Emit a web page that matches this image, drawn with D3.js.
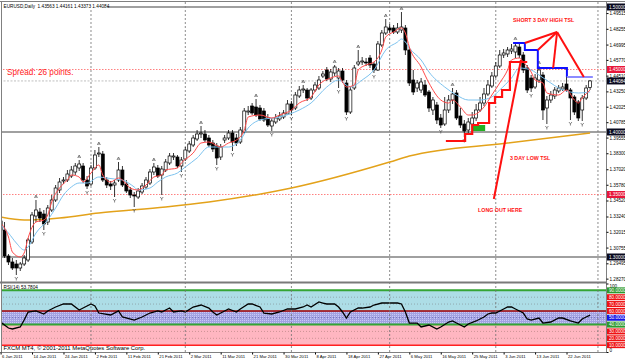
<!DOCTYPE html>
<html>
<head>
<meta charset="utf-8">
<title>EURUSD Daily</title>
<script src="https://cdn.jsdelivr.net/npm/d3@7"></script>
<style>
  body { margin: 0; background: #fff; }
  svg { display: block; font-family: "Liberation Sans", Arial, sans-serif; }
</style>
</head>
<body>
<svg id="chart" width="625" height="361"></svg>
<script>
// EURUSD daily bars (bar 0 = 6 Jan 2011)
var openP = [1.3288,1.3216,1.3008,1.2960,1.2944,1.2912,1.2944,1.2976,1.3120,1.3328,
  1.3360,1.3344,1.3280,1.3376,1.3456,1.3536,1.3608,1.3616,1.3648,1.3680,
  1.3712,1.3728,1.3616,1.3584,1.3712,1.3824,1.3824,1.3616,1.3584,1.3576,
  1.3616,1.3696,1.3584,1.3536,1.3496,1.3480,1.3520,1.3560,1.3592,1.3680,
  1.3712,1.3656,1.3696,1.3752,1.3800,1.3800,1.3728,1.3784,1.3848,1.3896,
  1.3944,1.3984,1.3984,1.3952,1.3912,1.3888,1.3800,1.3936,1.3952,1.3992,
  1.3952,1.3920,1.4000,1.4160,1.4208,1.4200,1.4192,1.4168,1.4112,1.4048,
  1.4080,1.4104,1.4120,1.4144,1.4224,1.4192,1.4288,1.4336,1.4336,1.4272,
  1.4336,1.4352,1.4448,1.4496,1.4424,1.4472,1.4432,1.4488,1.4392,1.4160,
  1.4352,1.4544,1.4560,1.4560,1.4592,1.4544,1.4496,1.4696,1.4792,1.4832,
  1.4832,1.4800,1.4816,1.4832,1.4656,1.4416,1.4352,1.4336,1.4376,1.4320,
  1.4176,1.4216,1.4112,1.4064,1.4176,1.4256,1.4312,1.4128,1.4064,1.4016,
  1.4064,1.4112,1.4176,1.4232,1.4304,1.4368,1.4448,1.4528,1.4616,1.4624,
  1.4648,1.4640,1.4680,1.4616,1.4512,1.4432,1.4360,1.4416,1.4456,1.4192,
  1.4256,1.4288,1.4328,1.4344,1.4384,1.4336,1.4280,1.4240,1.4176,1.4272,
  1.43563];
var highP = [1.3320,1.3280,1.3024,1.2992,1.2976,1.2960,1.3016,1.3152,1.3360,1.3456,
  1.3392,1.3376,1.3416,1.3496,1.3576,1.3632,1.3640,1.3696,1.3728,1.3752,
  1.3776,1.3752,1.3648,1.3736,1.3856,1.3880,1.3848,1.3640,1.3608,1.3616,
  1.3760,1.3728,1.3616,1.3560,1.3520,1.3552,1.3592,1.3640,1.3704,1.3752,
  1.3736,1.3728,1.3784,1.3832,1.3832,1.3816,1.3800,1.3880,1.3928,1.3976,
  1.4016,1.4048,1.4016,1.3976,1.3936,1.3912,1.3904,1.3976,1.4016,1.4016,
  1.3984,1.4040,1.4192,1.4208,1.4232,1.4264,1.4216,1.4192,1.4144,1.4112,
  1.4144,1.4160,1.4176,1.4256,1.4248,1.4320,1.4368,1.4376,1.4352,1.4352,
  1.4400,1.4448,1.4488,1.4520,1.4504,1.4536,1.4512,1.4512,1.4416,1.4360,
  1.4536,1.4656,1.4600,1.4592,1.4616,1.4560,1.4728,1.4816,1.4904,1.4864,
  1.4856,1.4872,1.4960,1.4856,1.4680,1.4496,1.4416,1.4432,1.4416,1.4336,
  1.4280,1.4240,1.4144,1.4280,1.4296,1.4352,1.4336,1.4192,1.4096,1.4112,
  1.4160,1.4224,1.4280,1.4352,1.4416,1.4480,1.4560,1.4656,1.4664,1.4680,
  1.4704,1.4720,1.4704,1.4640,1.4536,1.4456,1.4464,1.4528,1.4480,1.4288,
  1.4328,1.4360,1.4376,1.4392,1.4480,1.4352,1.4296,1.4256,1.4296,1.4376,
  1.44161];
var lowP = [1.3200,1.2992,1.2936,1.2896,1.2856,1.2888,1.2928,1.2960,1.3104,1.3280,
  1.3280,1.3216,1.3256,1.3360,1.3440,1.3512,1.3584,1.3600,1.3632,1.3656,
  1.3688,1.3592,1.3544,1.3568,1.3696,1.3800,1.3600,1.3552,1.3536,1.3480,
  1.3600,1.3560,1.3512,1.3472,1.3400,1.3464,1.3504,1.3544,1.3576,1.3656,
  1.3632,1.3496,1.3680,1.3736,1.3776,1.3712,1.3680,1.3768,1.3832,1.3880,
  1.3928,1.3952,1.3920,1.3880,1.3840,1.3736,1.3776,1.3912,1.3936,1.3848,
  1.3888,1.3904,1.3984,1.4136,1.4136,1.4120,1.4088,1.4080,1.4040,1.4008,
  1.4064,1.4088,1.4104,1.4144,1.4136,1.4176,1.4272,1.4312,1.4248,1.4256,
  1.4320,1.4336,1.4432,1.4408,1.4400,1.4448,1.4352,1.4392,1.4136,1.4144,
  1.4336,1.4528,1.4536,1.4528,1.4512,1.4472,1.4488,1.4680,1.4776,1.4792,
  1.4784,1.4784,1.4792,1.4616,1.4368,1.4296,1.4320,1.4312,1.4280,1.4160,
  1.4136,1.4064,1.4032,1.4048,1.4152,1.4224,1.4096,1.4032,1.3960,1.3992,
  1.4032,1.4088,1.4160,1.4208,1.4288,1.4352,1.4432,1.4512,1.4592,1.4600,
  1.4624,1.4592,1.4592,1.4472,1.4312,1.4320,1.4344,1.4392,1.4096,1.4064,
  1.4232,1.4264,1.4312,1.4328,1.4320,1.4096,1.4136,1.4088,1.4088,1.4256,
  1.43373];
var closeP = [1.3216,1.3008,1.2960,1.2912,1.2912,1.2944,1.2992,1.3136,1.3336,1.3376,
  1.3312,1.3264,1.3392,1.3456,1.3552,1.3600,1.3616,1.3664,1.3696,1.3728,
  1.3744,1.3616,1.3568,1.3712,1.3816,1.3832,1.3616,1.3576,1.3568,1.3592,
  1.3696,1.3576,1.3528,1.3496,1.3488,1.3528,1.3568,1.3616,1.3680,1.3720,
  1.3648,1.3704,1.3760,1.3808,1.3808,1.3728,1.3776,1.3856,1.3904,1.3952,
  1.3984,1.3992,1.3936,1.3896,1.3864,1.3792,1.3880,1.3952,1.3992,1.3920,
  1.3912,1.4016,1.4168,1.4168,1.4152,1.4136,1.4104,1.4096,1.4056,1.4088,
  1.4112,1.4128,1.4152,1.4224,1.4176,1.4296,1.4336,1.4344,1.4272,1.4336,
  1.4376,1.4416,1.4464,1.4424,1.4480,1.4520,1.4488,1.4416,1.4160,1.4336,
  1.4512,1.4560,1.4568,1.4552,1.4536,1.4496,1.4704,1.4792,1.4840,1.4816,
  1.4800,1.4832,1.4840,1.4656,1.4392,1.4320,1.4392,1.4400,1.4296,1.4192,
  1.4256,1.4096,1.4056,1.4176,1.4256,1.4304,1.4112,1.4056,1.4008,1.4080,
  1.4112,1.4176,1.4232,1.4304,1.4376,1.4448,1.4528,1.4616,1.4632,1.4656,
  1.4664,1.4688,1.4616,1.4496,1.4336,1.4352,1.4432,1.4496,1.4176,1.4256,
  1.4296,1.4336,1.4352,1.4360,1.4336,1.4272,1.4160,1.4112,1.4272,1.4352,
  1.44084];

// moving averages: [bar, price]
var maFast = [[0,1.3272],[2,1.3160],[3,1.3040],[5,1.3000],[6,1.3032],[7,1.3152],[9,1.3280],[11,1.3296],
  [12,1.3336],[13,1.3440],[15,1.3552],[17,1.3616],[18,1.3656],[20,1.3640],[21,1.3600],[23,1.3672],
  [25,1.3736],[26,1.3656],[28,1.3600],[30,1.3632],[31,1.3616],[33,1.3552],[35,1.3536],[37,1.3576],
  [39,1.3640],[41,1.3656],[42,1.3696],[45,1.3712],[46,1.3752],[49,1.3832],[51,1.3912],[53,1.3920],
  [56,1.3880],[58,1.3912],[60,1.3936],[62,1.4016],[63,1.4120],[66,1.4136],[69,1.4112],[71,1.4136],
  [74,1.4176],[76,1.4232],[79,1.4280],[81,1.4376],[84,1.4432],[86,1.4448],[87,1.4400],[88,1.4360],
  [90,1.4376],[91,1.4496],[93,1.4536],[95,1.4560],[97,1.4656],[98,1.4760],[100,1.4800],[102,1.4832],
  [103,1.4792],[104,1.4680],[107,1.4520],[109,1.4392],[112,1.4256],[114,1.4232],[115,1.4256],[117,1.4200],
  [119,1.4136],[120,1.4136],[123,1.4200],[125,1.4296],[127,1.4392],[129,1.4496],[130,1.4576],[132,1.4592],
  [133,1.4560],[135,1.4480],[136,1.4416],[138,1.4392],[139,1.4312],[142,1.4296],[144,1.4336],[146,1.4256],
  [147,1.4232],[148,1.4272],[150,1.4336]];
var maSlow = [[0,1.3256],[2,1.3192],[4,1.3112],[6,1.3056],[7,1.3080],[9,1.3192],[12,1.3296],[14,1.3392],
  [16,1.3496],[18,1.3560],[20,1.3592],[22,1.3592],[25,1.3640],[27,1.3632],[29,1.3624],[31,1.3616],
  [34,1.3560],[35,1.3536],[38,1.3552],[40,1.3600],[42,1.3640],[45,1.3672],[47,1.3720],[50,1.3792],
  [53,1.3880],[58,1.3880],[61,1.3936],[63,1.4032],[66,1.4096],[71,1.4120],[76,1.4176],[79,1.4232],
  [83,1.4360],[86,1.4416],[89,1.4360],[92,1.4416],[95,1.4496],[98,1.4656],[101,1.4720],[102,1.4744],
  [103,1.4720],[104,1.4672],[107,1.4576],[109,1.4480],[113,1.4360],[116,1.4296],[119,1.4256],[122,1.4256],
  [125,1.4280],[127,1.4336],[130,1.4432],[132,1.4512],[135,1.4496],[137,1.4456],[140,1.4392],[142,1.4352],
  [145,1.4320],[147,1.4312],[150,1.4320]];
var maLong = [[0,1.3320],[6,1.3296],[15,1.3312],[25,1.3352],[42,1.3400],[53,1.3440],[74,1.3552],
  [99,1.3760],[104,1.3808],[129,1.3912],[150,1.3992]];

// RSI(14) read from the lower window: [bar, value]
var rsi = [[0,43.8],[2,35.0],[3,33.6],[5,36.5],[6,46.7],[7,58.4],[9,59.9],[11,55.5],[12,59.9],[14,65.7],
  [16,70.1],[18,70.1],[20,61.3],[21,64.2],[23,70.1],[24,67.2],[25,56.9],[28,54.0],[30,59.9],[31,51.1],
  [34,46.7],[36,51.1],[38,56.9],[40,59.9],[41,58.4],[43,64.2],[44,58.4],[46,59.9],[47,58.4],[49,65.7],
  [51,68.6],[53,64.2],[54,58.4],[55,54.0],[57,59.9],[58,62.8],[60,58.4],[61,62.8],[63,70.1],[64,70.1],
  [66,65.7],[67,56.9],[69,55.5],[71,58.4],[73,62.8],[75,62.8],[77,65.7],[78,68.6],[79,65.7],[81,73.0],
  [82,71.5],[83,70.1],[85,70.1],[86,65.7],[87,58.4],[88,49.6],[89,58.4],[91,64.2],[92,64.2],[94,65.7],
  [95,68.6],[97,71.5],[98,71.5],[101,71.5],[102,70.1],[103,58.4],[104,42.3],[106,42.3],[107,36.5],
  [109,39.4],[111,33.6],[112,36.5],[114,43.8],[115,45.3],[116,42.3],[118,36.5],[119,40.9],[121,45.3],
  [123,51.1],[124,55.5],[125,56.9],[126,56.9],[128,62.8],[129,65.7],[130,65.7],[131,62.8],[133,56.9],
  [134,48.2],[135,46.7],[137,49.6],[138,42.3],[140,43.8],[142,49.6],[143,49.6],[145,45.3],[147,42.3],
  [148,48.2],[149,51.1],[150,53.7804]];

// fractal arrows (bar numbers)
var fractalUp = [9,20,25,30,39,51,65,77,85,91,98,102,115,131,137,144];
var fractalDown = [4,11,22,29,34,41,46,55,59,69,74,86,88,95,112,118,135,139,145,148];

// trailing stops drawn on the chart: [bar, price]
var lowTsl = [[113.3,1.3928],[118.2,1.3984],[120.0,1.4056],[121.5,1.4072],[124.3,1.4232],
  [125.8,1.4280],[127.6,1.4336],[129.6,1.4560],[134.0,1.4560]];
var highTsl = [[130.4,1.4712],[133.4,1.4656],[136.7,1.4512],[144.1,1.4440]];
var highTslEnd = [[144.1,1.4440],[150.7,1.4440]];
var longOut = [[125.5,1.3464],[132.4,1.4576]];
var shortApex = [141.6,1.4800];
var shortTargets = [[133.4,1.4712],[136.7,1.4656],[140.6,1.4512],[148.4,1.4440]];
var entryBox = [[120.0,1.4056],[123.3,1.4008]];

var notes = [
  {text: "SHORT 3 DAY HIGH TSL", bar: 130.4, price: 1.4880},
  {text: "3 DAY LOW TSL", bar: 129.6, price: 1.3776},
  {text: "LONG OUT HERE", bar: 121.5, price: 1.3360}
];

var monthStarts = [23, 47, 74, 99, 126, 152];
var dateLabels = ["6 Jan 2011","14 Jan 2011","24 Jan 2011","2 Feb 2011","11 Feb 2011","21 Feb 2011",
  "2 Mar 2011","11 Mar 2011","21 Mar 2011","30 Mar 2011","8 Apr 2011","18 Apr 2011","27 Apr 2011",
  "6 May 2011","16 May 2011","25 May 2011","3 Jun 2011","13 Jun 2011","22 Jun 2011"];
var dateBars = dateLabels.map(function(d, i) { return i * 8; });
var priceTicks = [1.49515,1.48255,1.46995,1.45770,1.44510,1.43250,1.42025,1.40785,1.39555,
  1.38300,1.37020,1.35780,1.34520,1.33240,1.32015,1.30755,1.29495,1.28270];
var priceMarks = [1.5, 1.45, 1.44084, 1.4, 1.35, 1.3];
var rsiLevels = [90, 80, 70, 60, 50, 40, 30, 20, 10];

var svg = d3.select("#chart");

var x = d3.scaleLinear().domain([0, 150]).range([0.6, 590.1]);
var y = d3.scaleLinear().domain([1.3, 1.5]).range([257, 7]);
var yr = d3.scaleLinear().domain([0, 100]).range([352, 283.5]);
var axisX = 606.5;
var last = openP.length - 1;

var defs = svg.append("defs");
defs.append("clipPath").attr("id", "clipMain").append("rect")
  .attr("x", 2).attr("y", 2).attr("width", axisX - 2).attr("height", 279.5);
defs.append("clipPath").attr("id", "clipRsi").append("rect")
  .attr("x", 2).attr("y", 283.5).attr("width", axisX - 2).attr("height", 69);
var pat = defs.append("pattern").attr("id", "dots")
  .attr("width", 2).attr("height", 2).attr("patternUnits", "userSpaceOnUse");
pat.append("rect").attr("width", 2).attr("height", 2).attr("fill", "#a2a2e2");
pat.append("rect").attr("width", 1).attr("height", 1).attr("fill", "#cacaf4");

// ---------- RSI window backdrop ----------
var rsiG = svg.append("g").attr("clip-path", "url(#clipRsi)");
rsiG.append("rect").attr("x", 0).attr("width", axisX)
  .attr("y", yr(90)).attr("height", yr(60) - yr(90)).attr("fill", "#addde6");
rsiG.append("rect").attr("x", 0).attr("width", axisX)
  .attr("y", yr(60)).attr("height", yr(40) - yr(60)).attr("fill", "url(#dots)");
rsiG.append("rect").attr("x", 0).attr("width", axisX)
  .attr("y", yr(40)).attr("height", yr(10) - yr(40)).attr("fill", "#ffb6c1");

var levelStyle = {
  90: {c: "#34a534", w: 2, d: null}, 80: {c: "#8a9aa0", w: 0.8, d: "1,2"},
  70: {c: "#8a9aa0", w: 0.8, d: "1,2"}, 60: {c: "#a00000", w: 1.5, d: null},
  50: {c: "#5a5aa8", w: 0.8, d: "1,2"}, 40: {c: "#34a534", w: 2, d: null},
  30: {c: "#c08a8a", w: 0.8, d: "1,2"}, 20: {c: "#c08a8a", w: 0.8, d: "1,2"},
  10: {c: "#ff2020", w: 1.5, d: null}
};
rsiG.selectAll(".lvl").data(rsiLevels).enter().append("line")
  .attr("x1", 0).attr("x2", axisX)
  .attr("y1", function(d) { return yr(d); }).attr("y2", function(d) { return yr(d); })
  .attr("stroke", function(d) { return levelStyle[d].c; })
  .attr("stroke-width", function(d) { return levelStyle[d].w; })
  .attr("stroke-dasharray", function(d) { return levelStyle[d].d; });

// month separators through both windows
svg.append("g").selectAll("line").data(monthStarts).enter().append("line")
  .attr("x1", function(d) { return x(d); }).attr("x2", function(d) { return x(d); })
  .attr("y1", 2).attr("y2", 352)
  .attr("stroke", "#707070").attr("stroke-width", 0.8).attr("stroke-dasharray", "2,2");

// RSI line
rsiG.append("path").datum(rsi)
  .attr("fill", "none").attr("stroke", "#000").attr("stroke-width", 1.3)
  .attr("d", d3.line().x(function(d) { return x(d[0]); }).y(function(d) { return yr(d[1]); }));

// ---------- main window ----------
var main = svg.append("g").attr("clip-path", "url(#clipMain)");

// round-number lines
main.selectAll(".hl").data([1.5, 1.4, 1.3]).enter().append("line")
  .attr("x1", 0).attr("x2", axisX)
  .attr("y1", function(d) { return y(d); }).attr("y2", function(d) { return y(d); })
  .attr("stroke", "#808080").attr("stroke-width", 1.5);
main.selectAll(".hr").data([1.45, 1.35]).enter().append("line")
  .attr("x1", 0).attr("x2", axisX)
  .attr("y1", function(d) { return y(d); }).attr("y2", function(d) { return y(d); })
  .attr("stroke", "#ff6060").attr("stroke-width", 0.8).attr("stroke-dasharray", "1.5,1.5");
main.append("line")
  .attr("x1", 0).attr("x2", axisX)
  .attr("y1", y(closeP[last])).attr("y2", y(closeP[last]))
  .attr("stroke", "#b0b0b0").attr("stroke-width", 0.8).attr("stroke-dasharray", "2,1.5");

var maLine = d3.line()
  .x(function(d) { return x(d[0]); })
  .y(function(d) { return y(d[1]); })
  .curve(d3.curveMonotoneX);

main.append("path").datum(maLong)
  .attr("fill", "none").attr("stroke", "#e3a21a").attr("stroke-width", 1.5).attr("d", maLine);

// candles
var bars = d3.range(openP.length);
var candle = main.selectAll(".candle").data(bars).enter().append("g");
candle.append("line")
  .attr("x1", function(i) { return x(i); }).attr("x2", function(i) { return x(i); })
  .attr("y1", function(i) { return y(highP[i]); }).attr("y2", function(i) { return y(lowP[i]); })
  .attr("stroke", "#000").attr("stroke-width", 0.8);
candle.append("rect")
  .attr("x", function(i) { return x(i) - 1.5; })
  .attr("width", 3)
  .attr("y", function(i) { return y(Math.max(openP[i], closeP[i])); })
  .attr("height", function(i) { return Math.max(0.8, Math.abs(y(openP[i]) - y(closeP[i]))); })
  .attr("fill", function(i) { return closeP[i] >= openP[i] ? "#fff" : "#000"; })
  .attr("stroke", "#000").attr("stroke-width", 0.7);

main.append("path").datum(maSlow)
  .attr("fill", "none").attr("stroke", "#7cc2ee").attr("stroke-width", 1).attr("d", maLine);
main.append("path").datum(maFast)
  .attr("fill", "none").attr("stroke", "#ff4a4a").attr("stroke-width", 1).attr("d", maLine);

// fractal arrows
main.selectAll(".fu").data(fractalUp).enter().append("path")
  .attr("transform", function(i) { return "translate(" + x(i) + "," + (y(highP[i]) - 3.5) + ")"; })
  .attr("d", "M-1.5,1.5L0,-1.5L1.5,1.5M-0.9,0.6L0.9,0.6")
  .attr("fill", "none").attr("stroke", "#555").attr("stroke-width", 0.7);
main.selectAll(".fd").data(fractalDown).enter().append("path")
  .attr("transform", function(i) { return "translate(" + x(i) + "," + (y(lowP[i]) + 3.5) + ")"; })
  .attr("d", "M-1.5,-1.5L0,0.4L1.5,-1.5M0,0.4L0,2")
  .attr("fill", "none").attr("stroke", "#555").attr("stroke-width", 0.7);

// hand drawn trade notes
var plain = d3.line().x(function(d) { return x(d[0]); }).y(function(d) { return y(d[1]); });
var step = d3.line().x(function(d) { return x(d[0]); }).y(function(d) { return y(d[1]); })
  .curve(d3.curveStepAfter);

main.append("rect")
  .attr("x", x(entryBox[0][0])).attr("y", y(entryBox[0][1]))
  .attr("width", x(entryBox[1][0]) - x(entryBox[0][0]))
  .attr("height", y(entryBox[1][1]) - y(entryBox[0][1]))
  .attr("fill", "#22b022");
main.append("path").datum(lowTsl)
  .attr("fill", "none").attr("stroke", "#ff1010").attr("stroke-width", 2.2).attr("d", step);
main.append("path").datum(highTsl)
  .attr("fill", "none").attr("stroke", "#1010ff").attr("stroke-width", 2).attr("d", step);
main.append("path").datum(highTslEnd)
  .attr("fill", "none").attr("stroke", "#8c8cff").attr("stroke-width", 2).attr("d", plain);
main.append("path").datum(longOut)
  .attr("fill", "none").attr("stroke", "#ff1010").attr("stroke-width", 2).attr("d", plain);
main.selectAll(".fan").data(shortTargets).enter().append("path")
  .attr("d", function(t) { return plain([shortApex, t]); })
  .attr("fill", "none").attr("stroke", "#ff1010").attr("stroke-width", 2);

main.selectAll(".note").data(notes).enter().append("text")
  .attr("x", function(d) { return x(d.bar); })
  .attr("y", function(d) { return y(d.price); })
  .attr("fill", "#ff1010").attr("font-size", "5.3px").attr("font-weight", "bold")
  .text(function(d) { return d.text; });

main.append("text")
  .attr("x", 7).attr("y", y(1.4460))
  .attr("fill", "#ff2020").attr("font-size", "8.2px")
  .text("Spread: 26 points.");

// title with its white plate
var fmt5 = d3.format(".5f");
var title = "EURUSD,Daily  " + [openP[last], highP[last], lowP[last], closeP[last]].map(fmt5).join(" ");
svg.append("rect").attr("x", 2).attr("y", 2).attr("width", 105).attr("height", 6.5).attr("fill", "#fff");
svg.append("text").attr("x", 3.5).attr("y", 7.5).attr("font-size", "4.7px").attr("fill", "#000")
  .attr("xml:space", "preserve").text(title);

svg.append("text").attr("x", 3.5).attr("y", 288.5).attr("font-size", "4.7px").attr("fill", "#000")
  .text("RSI(14) " + d3.format(".4f")(rsi[rsi.length - 1][1]));
svg.append("text").attr("x", 3.5).attr("y", 350.3).attr("font-size", "5.9px").attr("fill", "#000")
  .text("FXCM MT4, \u00a9 2001-2011 MetaQuotes Software Corp.");

// ---------- frame ----------
svg.append("line").attr("x1", 0).attr("x2", 625).attr("y1", 1.5).attr("y2", 1.5)
  .attr("stroke", "#808080").attr("stroke-width", 1);
svg.append("line").attr("x1", 1.5).attr("x2", 1.5).attr("y1", 1.5).attr("y2", 352.5)
  .attr("stroke", "#808080").attr("stroke-width", 1);
svg.append("line").attr("x1", 0).attr("x2", axisX).attr("y1", 282.5).attr("y2", 282.5)
  .attr("stroke", "#7a7a7a").attr("stroke-width", 2.2);
svg.append("line").attr("x1", 0).attr("x2", axisX).attr("y1", 352.5).attr("y2", 352.5)
  .attr("stroke", "#808080").attr("stroke-width", 1);
svg.append("line").attr("x1", axisX).attr("x2", axisX).attr("y1", 1.5).attr("y2", 352.5)
  .attr("stroke", "#808080").attr("stroke-width", 1);

// ---------- price scale ----------
var yAxis = svg.append("g").attr("transform", "translate(" + axisX + ",0)")
  .call(d3.axisRight(y).tickValues(priceTicks).tickFormat(fmt5).tickSize(2).tickPadding(1));
yAxis.select(".domain").remove();
yAxis.selectAll("text").attr("font-size", "4.6px").attr("fill", "#000");
yAxis.selectAll("line").attr("stroke", "#000");

var markColor = {1.5: "#0a0a1e", 1.45: "#e8173a", 1.44084: "#0a0a1e", 1.4: "#0a0a1e", 1.35: "#e8173a", 1.3: "#0a0a1e"};
var marks = svg.append("g").selectAll("g").data(priceMarks).enter().append("g");
marks.append("rect")
  .attr("x", axisX + 0.5).attr("y", function(d) { return y(d) - 3.5; })
  .attr("width", 19).attr("height", 7)
  .attr("fill", function(d) { return markColor[d]; });
marks.append("text")
  .attr("x", axisX + 2.5).attr("y", function(d) { return y(d) + 1.7; })
  .attr("font-size", "4.6px").attr("fill", "#fff")
  .text(function(d) { return fmt5(d); });

// ---------- RSI scale ----------
var rAxis = svg.append("g").attr("transform", "translate(" + axisX + ",0)")
  .call(d3.axisRight(yr).tickValues([100, 0]).tickFormat(d3.format("d")).tickSize(2).tickPadding(1));
rAxis.select(".domain").remove();
rAxis.selectAll("text").attr("font-size", "4.6px").attr("fill", "#000")
  .attr("dy", function(d) { return d === 100 ? "0.9em" : "-0.2em"; });
rAxis.selectAll("line").attr("stroke", "#000");

var levelBox = {90: "#2e9a2e", 80: "#ee1111", 70: "#ee1111", 60: "#ee1111", 50: "#1515e6",
  40: "#2e9a2e", 30: "#ee1111", 20: "#ee1111", 10: "#ee1111"};
var lv = svg.append("g").selectAll("g").data(rsiLevels).enter().append("g");
lv.append("rect")
  .attr("x", axisX + 0.5).attr("y", function(d) { return yr(d) - 3; })
  .attr("width", 19).attr("height", 6)
  .attr("fill", function(d) { return levelBox[d]; });
lv.append("text")
  .attr("x", axisX + 2.5).attr("y", function(d) { return yr(d) + 1.6; })
  .attr("font-size", "4.6px").attr("fill", "#fff")
  .text(function(d) { return d3.format(".4f")(d); });

// ---------- time scale ----------
var xAxis = svg.append("g").attr("transform", "translate(0,352.5)")
  .call(d3.axisBottom(x).tickValues(dateBars)
    .tickFormat(function(d, i) { return dateLabels[i]; }).tickSize(2).tickPadding(0.5));
xAxis.select(".domain").remove();
xAxis.selectAll("text").attr("font-size", "4.2px").attr("fill", "#000")
  .attr("text-anchor", "start").attr("dx", "1");
xAxis.selectAll("line").attr("stroke", "#000");
</script>
</body>
</html>
